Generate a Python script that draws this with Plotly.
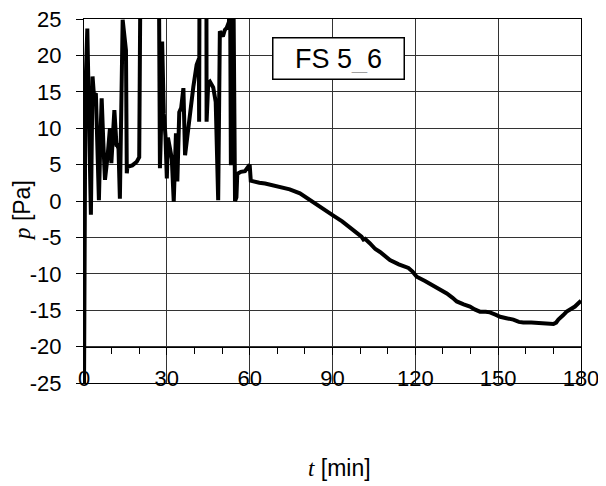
import plotly.graph_objects as go

# time [min]
t = [0, 0.1, 0.5, 1.2, 1.8, 2.5, 3.1, 3.6, 4.3, 5.0, 5.4, 5.9, 6.4, 7.0, 7.6, 8.5, 9.4, 9.9,
     10.5, 11.0, 11.8, 12.1, 12.5, 13.0, 14.0, 14.6, 15.2, 15.5, 15.7, 17.5, 19.1, 20.0, 20.6,
     27.0, 27.5, 27.9, 28.3, 28.9, 29.5, 30.0, 30.4, 31.0, 31.8, 32.5, 33.3, 33.8, 34.2, 34.5,
     35.2, 36.0, 36.6, 37.5, 38.4, 39.6, 40.8, 41.6, 41.7, 41.9, 44.3, 44.4, 45.0, 45.6, 46.8,
     47.7, 48.6, 49.2, 50.3, 51.0, 51.7, 52.5, 52.9, 53.2, 53.5, 54.1, 54.7, 55.2, 55.5, 55.9,
     56.8, 58.3, 59.5, 60.0, 60.4, 61.3, 63.5, 65.6, 68.0, 71.0, 74.5, 78.2, 80.5, 83.0, 86.5,
     90.3, 93.5, 96.3, 98.8, 100.5, 101.2, 101.8, 103.5, 105.5, 107.2, 109.0, 110.8, 114.0,
     117.5, 119.0, 120.5, 123.5, 126.5, 129.0, 131.4, 133.5, 135.0, 137.5, 139.8, 141.5, 143.4,
     145.5, 147.0, 149.0, 150.7, 153.0, 155.5, 157.5, 159.1, 162.0, 165.2, 168.0, 170.0, 171.0,
     171.8, 173.5, 174.8, 176.5, 177.8, 180.0]
# pressure [Pa]
p = [-26, -5, 15, 23.7, 10, -1.9, 17.1, 14.5, 14.8, 5, 0.1, 8, 14.1, 8, 2.9, 6, 10, 5.2,
     9, 12.5, 7.5, 7.6, 7.2, 0.3, 24.9, 22, 20.7, 3.8, 4.7, 4.9, 5.4, 6, 40,
     40, 4.5, 10, 21.9, 12, 9, 3.1, 8.7, 7.5, 5.8, -0.1, 9.3, 2.7, 11.8, 12.2,
     12.8, 15.5, 6.3, 9.5, 12.5, 15.7, 18.7, 19.5, 10.9, 40, 40, 10.9, 16.2, 16.4, 15.6,
     13.6, 0.1, 23.3, 22.6, 23.5, 23.8, 24.6, 30, 4.9, 40, 30, 0.0, 0.5, 3.6, 3.8,
     4.0, 4.1, 4.9, 5.0, 2.8, 2.7, 2.5, 2.4, 2.2, 2.0, 1.6, 1.05, 0.5, -0.2, -1.0,
     -2.0, -2.8, -3.6, -4.3, -4.9, -5.3, -5.2, -5.8, -6.6, -7.0, -7.6, -8.1, -8.7,
     -9.2, -9.7, -10.4, -11.0, -11.6, -12.1, -12.7, -13.3, -13.8, -14.2, -14.5, -14.9, -15.2,
     -15.2, -15.3, -15.6, -15.9, -16.1, -16.3, -16.6, -16.7, -16.7, -16.8, -16.9, -16.9, -16.7,
     -16.3, -15.7, -15.2, -14.8, -14.5, -13.7]

x_ticks = [0, 30, 60, 90, 120, 150, 180]
y_ticks = [-25, -20, -15, -10, -5, 0, 5, 10, 15, 20, 25]
y_ticktext = [str(v) for v in y_ticks]   # plain hyphen minus
label = "FS 5_6"

FONT = "Liberation Sans, Arial, sans-serif"
GRID = "#333333"

fig = go.Figure()
fig.add_trace(go.Scatter(x=t, y=p, mode="lines",
                         line=dict(color="black", width=4),
                         showlegend=False, hoverinfo="skip"))
fig.add_trace(go.Scatter(x=[0, 180], y=[None, None], xaxis="x2", yaxis="y",
                         mode="lines", showlegend=False, hoverinfo="skip"))

fig.update_layout(
    width=606, height=486,
    margin=dict(l=76, r=33, t=11, b=111, autoexpand=False),
    plot_bgcolor="white", paper_bgcolor="white",
    font=dict(family=FONT, size=22, color="black"),
    xaxis=dict(range=[0, 180], tickvals=x_ticks, showticklabels=False,
               showgrid=True, gridcolor=GRID, gridwidth=1,
               showline=True, linecolor="black", linewidth=1, mirror=True,
               ticks="", zeroline=False, automargin=False),
    xaxis2=dict(range=[0, 180], overlaying="x", anchor="free", position=0.1,
                tickvals=x_ticks, ticks="outside", ticklen=7, tickcolor="black",
                minor=dict(dtick=10, ticks="outside", ticklen=6, tickcolor="black", showgrid=False),
                showline=True, linecolor="black", linewidth=1, showgrid=False,
                zeroline=False, tickfont=dict(family=FONT, size=22),
                ticklabelstandoff=5, ticklabeloverflow="allow", automargin=False),
    yaxis=dict(range=[-25, 25], tickvals=y_ticks, ticktext=y_ticktext,
               ticks="outside", ticklen=7,
               tickcolor="black", showgrid=True, gridcolor=GRID, gridwidth=1,
               showline=True, linecolor="black", linewidth=1, mirror=True,
               zeroline=False, tickfont=dict(family=FONT, size=22),
               ticklabelstandoff=10, ticklabeloverflow="allow", automargin=False),
    annotations=[
        dict(text=label, xref="x", yref="y", x=92, y=19.6, showarrow=False,
             font=dict(family=FONT, size=27, color="black"),
             bordercolor="black", borderwidth=1.5, borderpad=6, bgcolor="white",
             width=118, height=28),
        dict(text="<span style='font-family:Liberation Serif'><i>t</i></span> [min]",
             xref="paper", yref="paper", x=(339 - 84) / 497, y=(383 - 468) / 364,
             xanchor="center", yanchor="middle",
             showarrow=False, font=dict(family=FONT, size=23)),
        dict(text="<span style='font-family:Liberation Serif'><i>p</i></span> [Pa]",
             xref="paper", yref="paper", x=(22 - 84) / 497, y=(383 - 211) / 364,
             xanchor="center", yanchor="middle",
             textangle=-90, showarrow=False, font=dict(family=FONT, size=23)),
    ],
)

fig.write_html("out.html")
